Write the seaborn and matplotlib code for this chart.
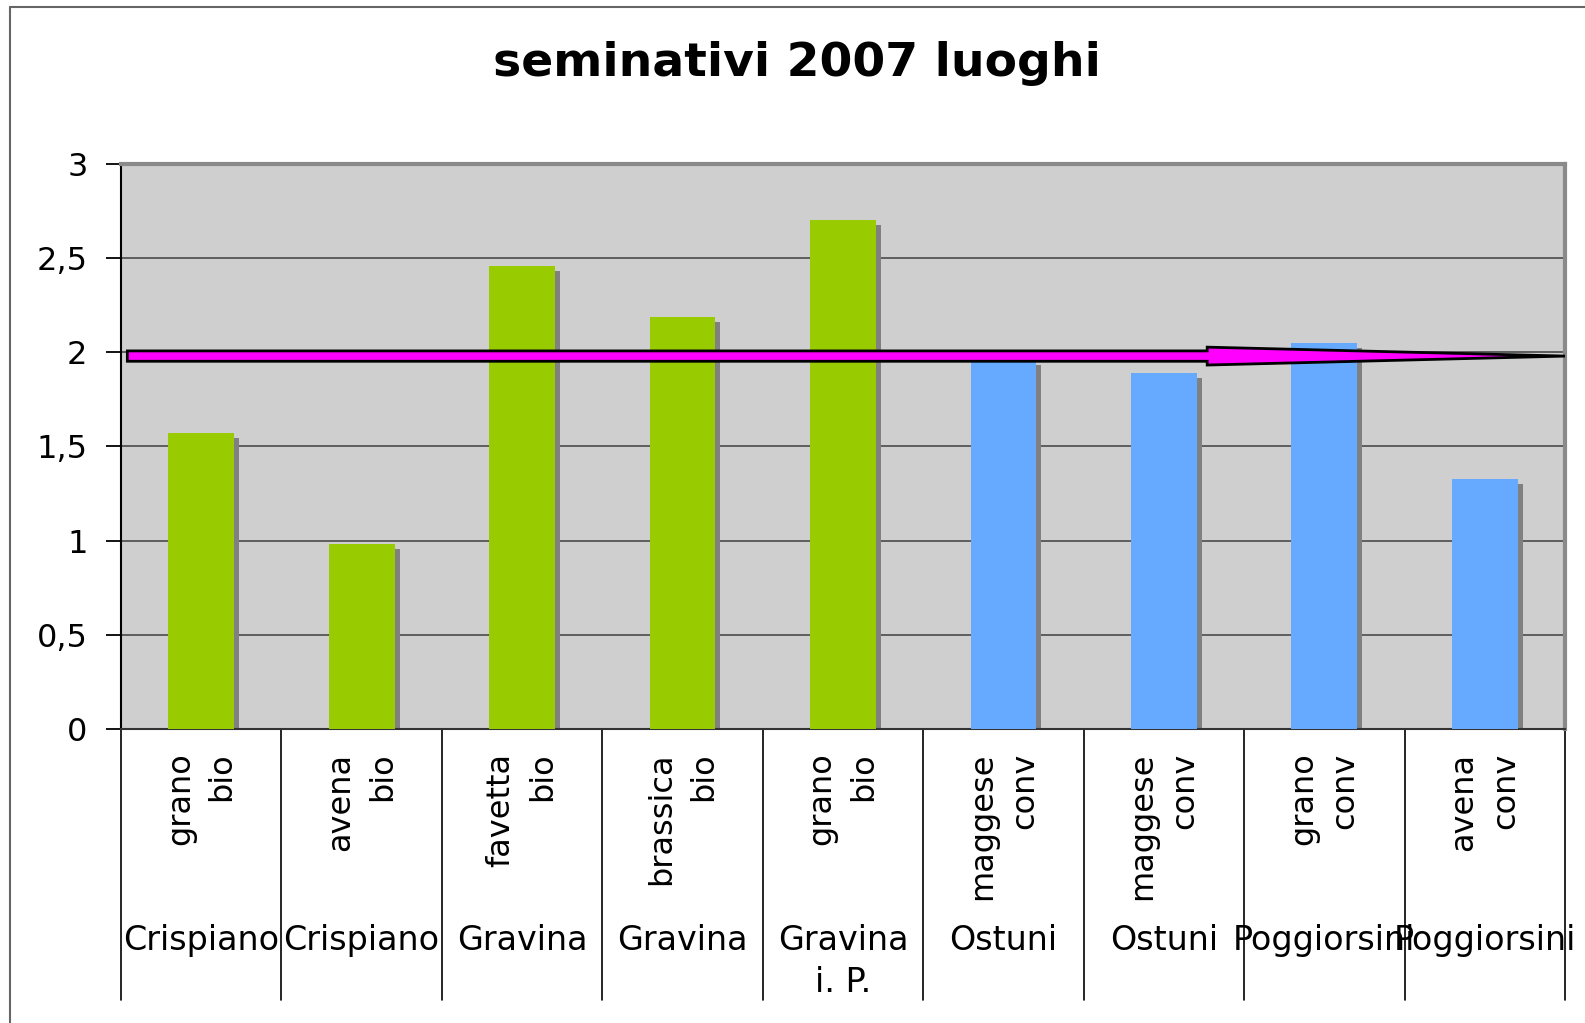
import matplotlib
matplotlib.use("Agg")
import matplotlib.pyplot as plt
import matplotlib.transforms as mtransforms
from matplotlib.patches import Rectangle, FancyArrow
from matplotlib.lines import Line2D
import seaborn as sns
import pandas as pd

# Data
crops = ["grano\nbio", "avena\nbio", "favetta\nbio", "brassica\nbio", "grano\nbio",
         "maggese\nconv", "maggese\nconv", "grano\nconv", "avena\nconv"]
places = ["Crispiano", "Crispiano", "Gravina", "Gravina", "Gravina\ni. P.",
          "Ostuni", "Ostuni", "Poggiorsini", "Poggiorsini"]
values = [1.57, 0.98, 2.46, 2.19, 2.70, 1.96, 1.89, 2.05, 1.33]
farming = ["bio", "bio", "bio", "bio", "bio", "conv", "conv", "conv", "conv"]
arrow_level = 1.98

palette = {"bio": "#99CC00", "conv": "#66AAFF"}

df = pd.DataFrame({"idx": range(len(values)), "value": values, "farming": farming})

sns.set_theme(style="white")
plt.rcParams["font.family"] = ["DejaVu Sans"]
plt.rcParams["text.color"] = "black"
plt.rcParams["xtick.color"] = "black"
plt.rcParams["ytick.color"] = "black"

fig = plt.figure(figsize=(15.85, 10.23), dpi=100)
ax = fig.add_axes([0.0763, 0.2874, 0.9874 - 0.0763, 0.8397 - 0.2874])
ax.set_facecolor("#CFCFCF")

sns.barplot(data=df, x="idx", y="value", hue="farming", palette=palette,
            width=0.41, dodge=False, legend=False, saturation=1, ax=ax,
            linewidth=0, edgecolor="none", zorder=3)

# gray drop shadow, shifted right and down by a few pixels
shift = mtransforms.ScaledTranslation(5 / 100, -5 / 100, fig.dpi_scale_trans)
for p in list(ax.patches):
    shadow = Rectangle(p.get_xy(), p.get_width(), p.get_height(),
                       facecolor="#808080", edgecolor="none",
                       transform=ax.transData + shift, zorder=2)
    ax.add_patch(shadow)

ax.set_xlim(-0.5, len(values) - 0.5)
ax.set_ylim(0, 3)
ax.set_yticks([0, 0.5, 1, 1.5, 2, 2.5, 3])
ax.set_yticklabels(["0", "0,5", "1", "1,5", "2", "2,5", "3"], fontsize=23)
ax.yaxis.grid(True, color="#555555", linewidth=1.3, zorder=1)
ax.set_axisbelow(True)
ax.tick_params(axis="y", which="major", left=True, length=11, width=1.3,
               color="black", pad=13)
ax.set_xlabel("")
ax.set_ylabel("")

# upper (rotated) category labels
ax.set_xticks(range(len(values)))
ax.set_xticklabels(crops, rotation=90, fontsize=23, va="top", ha="center",
                   multialignment="right", linespacing=1.45)
ax.tick_params(axis="x", bottom=False, pad=11)

# lower category labels and separators
trans = ax.get_xaxis_transform()
for i, place in enumerate(places):
    ax.text(i, -0.345, place, transform=trans, ha="center", va="top",
            fontsize=24, linespacing=1.35)
for i in range(len(values) + 1):
    ax.add_line(Line2D([i - 0.5, i - 0.5], [0, -0.48], transform=trans,
                       color="black", linewidth=1.2, clip_on=False))

for side in ["top", "right"]:
    ax.spines[side].set_color("#8a8a8a")
    ax.spines[side].set_linewidth(3)
ax.spines["left"].set_color("black")
ax.spines["left"].set_linewidth(1.5)
ax.spines["bottom"].set_color("#333333")
ax.spines["bottom"].set_linewidth(1.5)

# magenta arrow across the chart
arrow = FancyArrow(-0.46, arrow_level, 8.96, 0, width=0.055, head_width=0.095,
                   head_length=2.23, length_includes_head=True,
                   facecolor="#FF00FF", edgecolor="black", linewidth=2, zorder=5)
ax.add_patch(arrow)

fig.text(0.503, 0.938, "seminativi 2007 luoghi", ha="center", va="center",
         fontsize=34, fontweight="bold")

# outer frame of the chart area
fig.add_artist(Line2D([10 / 1585, 10 / 1585], [0, 1 - 7 / 1023], color="#666666", linewidth=1.5))
fig.add_artist(Line2D([10 / 1585, 1], [1 - 7 / 1023, 1 - 7 / 1023], color="#666666", linewidth=1.5))

fig.savefig("out.png", dpi=100)
